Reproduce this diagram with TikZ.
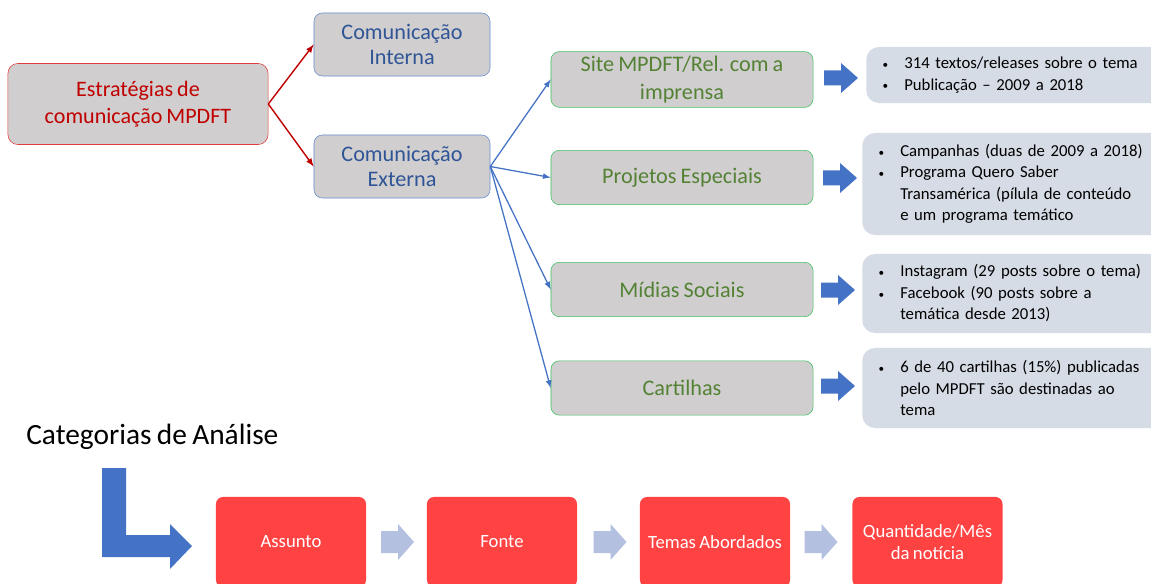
\documentclass[tikz,border=0pt]{standalone}
\usepackage{fontspec}
\setmainfont{Carlito}[WordSpace=0.8]
\usepackage{tikz}
\usetikzlibrary{shapes.geometric, arrows}
\definecolor{boxgray}{HTML}{D0CECE}
\definecolor{redtxt}{HTML}{C00000}
\definecolor{redline}{HTML}{E03C3C}
\definecolor{bluetxt}{HTML}{2F5597}
\definecolor{blueline}{HTML}{4472C4}
\definecolor{greentxt}{HTML}{548235}
\definecolor{greenline}{HTML}{3CC35F}
\definecolor{infofill}{HTML}{D6DCE5}
\definecolor{catred}{HTML}{FF4343}
\definecolor{lightarr}{HTML}{B4C0E0}
\tikzstyle{main} = [rectangle, rounded corners=7pt, minimum width=6.5cm, minimum height=2.025cm, align=center, draw=redline, fill=boxgray, text=redtxt, font=\fontsize{15.7}{19.2}\selectfont]
\tikzstyle{com} = [rectangle, rounded corners=6pt, minimum width=4.4cm, minimum height=1.575cm, align=center, draw=blueline!80, fill=boxgray, text=bluetxt, font=\fontsize{15.8}{18}\selectfont]
\tikzstyle{canal} = [rectangle, rounded corners=6pt, minimum width=6.55cm, minimum height=1.36cm, align=center, draw=greenline, fill=boxgray, text=greentxt, font=\fontsize{15.8}{19.5}\selectfont]
\tikzstyle{info} = [rectangle, rounded corners=9pt, anchor=west, minimum width=7.95cm, inner xsep=0.38cm, text width=7.19cm, align=left, fill=infofill, font=\fontsize{11.9}{15.3}\selectfont]
\tikzstyle{cat} = [rectangle, rounded corners=5pt, minimum width=3.75cm, minimum height=2.25cm, align=center, fill=catred, text=white, font=\fontsize{13.3}{16}\selectfont]
\tikzstyle{redarrow} = [redtxt, line width=1pt, ->, >=latex]
\tikzstyle{bluearrow} = [blueline, line width=0.9pt, ->, >=latex]
\newcommand{\bitem}{\makebox[0.57cm][l]{\hspace*{0.03cm}\raisebox{0.05ex}{\footnotesize\textbullet}}}
\newcommand{\bskip}{\hspace*{0.57cm}}

\begin{document}
\begin{tikzpicture}[x=0.025cm, y=-0.025cm]
	\path[use as bounding box, clip] (0,0) rectangle (1151,584);
	\fill[white] (0,0) rectangle (1151,584);
	% estrategias
	\node (estrategia) [main] at (138,104) {Estratégias de\\comunicação MPDFT};
	\node (interna) [com] at (402,44.5) {Comunicação\\Interna};
	\node (externa) [com] at (402,166.5) {Comunicação\\Externa};
	\draw [redarrow] (estrategia.east) -- (interna.west);
	\draw [redarrow] (estrategia.east) -- (externa.west);
	% canais
	\node (site) [canal] at (682,79.5) {Site MPDFT/Rel. com a\\imprensa};
	\node (projetos) [canal] at (682,177.5) {Projetos Especiais};
	\node (midias) [canal] at (682,289.5) {Mídias Sociais};
	\node (cartilhas) [canal] at (682,388) {Cartilhas};
	\foreach \c in {site, projetos, midias, cartilhas}
		\draw [bluearrow] (externa.east) -- (\c.west);
	% resultados
	\foreach \x/\y in {841/78, 840/178, 838/290, 838/386}
		\fill[blueline, shift={(\x,\y)}] (-17,-7.5) -- (0,-7.5) -- (0,-15) -- (17,0) -- (0,15) -- (0,7.5) -- (-17,7.5) -- cycle;
	\node (infosite) [info, minimum height=1.4cm] at (866,75) {\bitem 314 textos/releases sobre o tema\\\bitem Publicação – 2009 a 2018};
	\node (infoproj) [info, minimum height=2.55cm] at (862,184) {\bitem Campanhas (duas de 2009 a 2018)\\\bitem Programa Quero Saber\\\bskip Transamérica (pílula de conteúdo\\\bskip e um programa temático};
	\node (infomid) [info, minimum height=1.975cm] at (862,293.5) {\bitem Instagram (29 posts sobre o tema)\\\bitem Facebook (90 posts sobre a\\\bskip temática desde 2013)};
	\node (infocart) [info, minimum height=2cm] at (862,388) {\bitem 6 de 40 cartilhas (15\%) publicadas\\\bskip pelo MPDFT são destinadas ao\\\bskip tema};
	% categorias
	\node (titulo) [anchor=west, inner sep=0pt, font=\fontsize{20.9}{24}\selectfont] at (26,437) {Categorias de Análise};
	\fill[blueline] (102,468) -- (126,468) -- (126,535) -- (170,535) -- (170,524) -- (192,546) -- (170,569) -- (170,557) -- (102,557) -- cycle;
	\node (assunto) [cat] at (291,542) {Assunto};
	\node (fonte) [cat] at (502,542) {Fonte};
	\node (temas) [cat] at (715,542) {Temas Abordados};
	\node (quant) [cat] at (927.5,542) {Quantidade/Mês\\da notícia};
	\foreach \x in {397.5, 610, 821}
		\fill[lightarr, shift={(\x,542)}] (-16.5,-11) -- (0.5,-11) -- (0.5,-18) -- (16.5,0) -- (0.5,18) -- (0.5,11) -- (-16.5,11) -- cycle;
\end{tikzpicture}
\end{document}
